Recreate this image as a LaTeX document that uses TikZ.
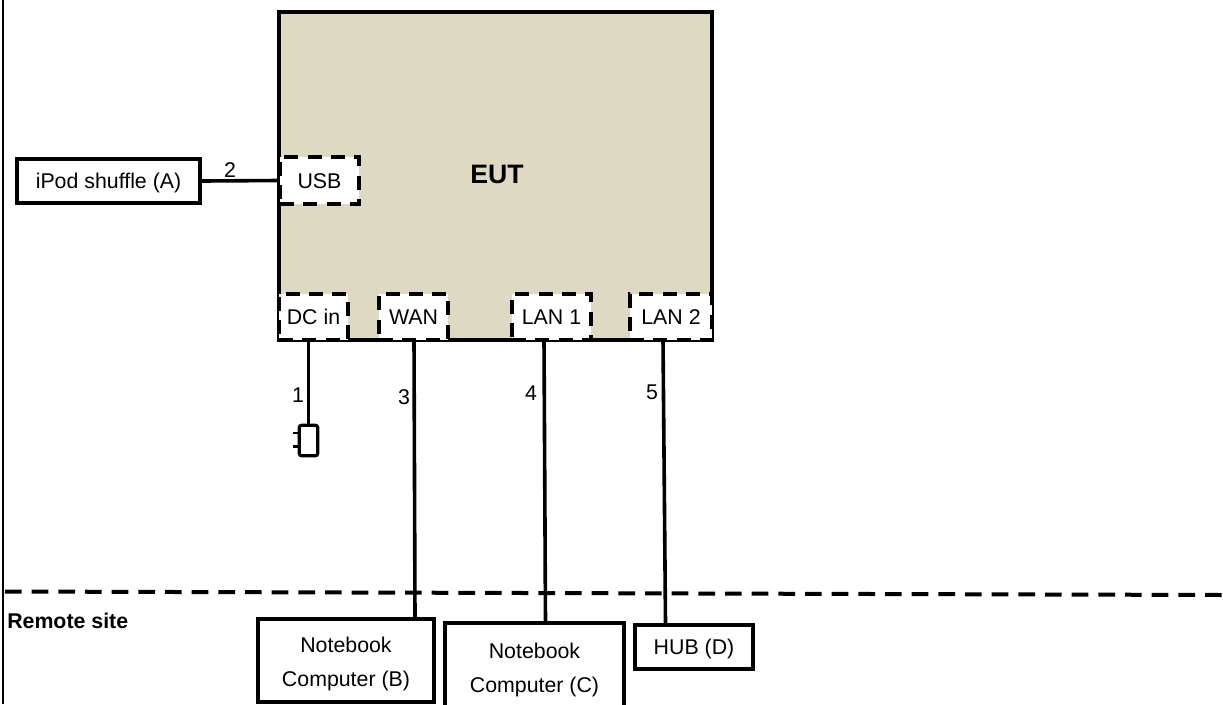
\documentclass[tikz,border=0pt]{standalone}
\usepackage{fontspec}
\setmainfont{Liberation Sans}
\usepackage{xcolor}
\usetikzlibrary{positioning}
\definecolor{eutfill}{HTML}{DDD9C3}

\begin{document}
\begin{tikzpicture}[
    x=0.75pt,y=-0.75pt,
    line/.style={line width=2.7pt},
    device/.style={draw,line width=3pt,inner sep=0pt,align=center,font=\fontsize{16}{26}\selectfont},
    single/.style={text height=11.5pt,text depth=0pt},
    port/.style={draw,fill=white,line width=3pt,dash pattern=on 10.5pt off 7pt,inner sep=0pt,font=\fontsize{16}{18}\selectfont,single},
    num/.style={font=\fontsize{16}{18}\selectfont,inner sep=0pt}
]
\useasboundingbox (0,0) rectangle (1223,704);

\draw[line width=0.9pt] (3,0) -- (3,704);

\node[draw,fill=eutfill,line width=3pt,minimum width=324.75pt,minimum height=246pt] (eut) at (495.5,176) {};
\node[font=\fontsize{20}{22}\selectfont\bfseries,inner sep=0pt] (eutlabel) at (497,174) {EUT};

\node[device,single,minimum width=137.5pt,minimum height=33pt] (ipod) at (108.5,181) {iPod shuffle (A)};
\node[device,minimum width=132.5pt,minimum height=62pt] (nbb) at (346,660.5) {\rule{0pt}{17pt}Notebook\\Computer (B)};
\node[device,minimum width=134pt,minimum height=70pt] (nbc) at (534.5,670) {Notebook\\Computer (C)};
\node[device,single,minimum width=88pt,minimum height=33pt] (hub) at (694,647) {HUB (D)};

\node[draw,rounded corners=2pt,line width=2.4pt,minimum width=14pt,minimum height=23pt,inner sep=0pt] (plug) at (308.5,440.5) {};
\draw[line width=1.8pt] ([yshift=5.5pt]plug.west) -- ++(-5,0);
\draw[line width=1.8pt] ([yshift=-4.5pt]plug.west) -- ++(-5,0);

\coordinate (lanonetop) at (544,340);
\coordinate (lanonebot) at (545.5,623);
\coordinate (lantwotop) at (663,340);
\coordinate (lantwobot) at (665.5,623);
\coordinate (wantop) at (414,339);
\coordinate (wanbot) at (415,619);
\coordinate (dashl) at (5,591.5);
\coordinate (dashr) at (1223,595);

\draw[line width=3pt,dash pattern=on 12.5pt off 7.5pt] (dashl) -- (dashr);

\draw[line] (plug.north |- 0,340) -- (plug.north);
\draw[line] (wantop) -- (wanbot);
\draw[line] (lanonetop) -- (lanonebot);
\draw[line] (lantwotop) -- (lantwobot);

\node[port,minimum width=59.25pt,minimum height=35.25pt] (usb) at (319.5,180.5) {USB};
\node[port,minimum width=51.75pt,minimum height=34.5pt] (dcin) at (313.5,317) {DC in};
\node[port,minimum width=51.75pt,minimum height=34.5pt] (wan) at (413.5,316.5) {WAN};
\node[port,minimum width=59.25pt,minimum height=34.5pt] (lanone) at (551.5,317) {LAN 1};
\node[port,minimum width=61.5pt,minimum height=34.5pt] (lantwo) at (671,317) {LAN 2};

\draw[line] (ipod.east) -- (usb.west);

\node[num] (numone) at (298,395) {1};
\node[num] (numtwo) at (230,170) {2};
\node[num] (numthree) at (404,397) {3};
\node[num] (numfour) at (531,393) {4};
\node[num] (numfive) at (652,392) {5};

\node[anchor=west,inner sep=0pt,font=\fontsize{16}{18}\selectfont\bfseries] (remote) at (7,621) {Remote site};

\end{tikzpicture}
\end{document}
